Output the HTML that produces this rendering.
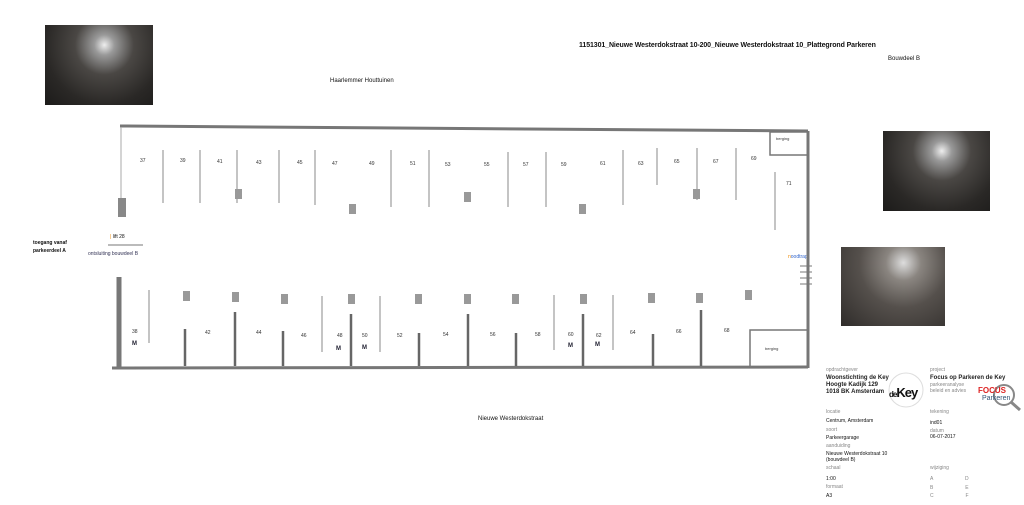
<!DOCTYPE html>
<html><head><meta charset="utf-8"><style>
body{margin:0;width:1024px;height:505px;background:#fff;position:relative;overflow:hidden;font-family:"Liberation Sans",sans-serif}
.t{position:absolute;white-space:nowrap;color:#111}
.ph{position:absolute;background:radial-gradient(ellipse at 55% 25%,#eee 0,#999 12%,#4a4744 35%,#2a2826 70%,#1c1b1a 100%)}
.s{font-size:5px;color:#888}
.b{font-size:6px;font-weight:bold;color:#222}
</style></head><body>
<div class="ph" style="left:45px;top:25px;width:108px;height:80px"></div>
<div class="ph" style="left:883px;top:131px;width:107px;height:80px"></div>
<div class="ph" style="left:841px;top:247px;width:104px;height:79px;background:radial-gradient(ellipse at 60% 20%,#ddd 0,#8a8580 20%,#55504c 50%,#2f2c2a 100%)"></div>
<div class="t" style="left:579px;top:42px;font-size:7px;font-weight:bold;letter-spacing:-0.1px">1151301_Nieuwe Westerdokstraat 10-200_Nieuwe Westerdokstraat 10_Plattegrond Parkeren</div>
<div class="t" style="left:888px;top:56px;font-size:6px">Bouwdeel B</div>
<div class="t" style="left:330px;top:78px;font-size:6px">Haarlemmer Houttuinen</div>
<div class="t" style="left:478px;top:416px;font-size:6px">Nieuwe Westerdokstraat</div>
<div class="t" style="left:33px;top:240px;font-size:5px;font-weight:bold">toegang vanaf</div>
<div class="t" style="left:33px;top:248px;font-size:5px;font-weight:bold">parkeerdeel A</div>
<div class="t" style="left:110px;top:234px;font-size:5px"><span style="color:#e80">|</span> lift 28</div>
<div class="t" style="left:88px;top:251px;font-size:5px;color:#335">ontsluiting bouwdeel B</div>
<div class="t" style="left:788px;top:254px;font-size:5px;color:#36c"><span style="color:#e80">n</span>oodtrap</div>
<svg style="position:absolute;left:0;top:0" width="1024" height="505">
<g fill="none" stroke="#777">
<path d="M120 126 L808 131" stroke-width="3"/>
<path d="M808 131 L808 368" stroke-width="3"/>
<path d="M112 368 L808 367" stroke-width="3"/>
<path d="M121 127 L121 198" stroke-width="1" stroke="#aaa"/>
<path d="M119 277 L119 368" stroke-width="5"/>
<rect x="770" y="132" width="38" height="23" stroke-width="1.5"/>
<rect x="750" y="330" width="58" height="37" stroke-width="1.5"/>
<path d="M800 266h12M800 272h12M800 278h12M800 284h12" stroke-width="1"/>
</g>
<rect x="118" y="198" width="8" height="19" fill="#888"/>
<line x1="108" y1="245" x2="143" y2="245" stroke="#777" stroke-width="1"/>
<g stroke="#888" stroke-width="1">
<line x1="163" y1="150" x2="163" y2="203"/><line x1="200" y1="150" x2="200" y2="203"/><line x1="237" y1="150" x2="237" y2="203"/><line x1="279" y1="150" x2="279" y2="203"/><line x1="315" y1="150" x2="315" y2="205"/><line x1="391" y1="150" x2="391" y2="207"/><line x1="429" y1="150" x2="429" y2="207"/><line x1="508" y1="152" x2="508" y2="207"/><line x1="546" y1="152" x2="546" y2="207"/><line x1="623" y1="150" x2="623" y2="205"/><line x1="657" y1="148" x2="657" y2="185"/><line x1="697" y1="148" x2="697" y2="200"/><line x1="736" y1="148" x2="736" y2="200"/><line x1="775" y1="172" x2="775" y2="230"/>
<line x1="149" y1="290" x2="149" y2="343"/><line x1="322" y1="296" x2="322" y2="352"/><line x1="380" y1="296" x2="380" y2="352"/><line x1="554" y1="295" x2="554" y2="350"/><line x1="613" y1="295" x2="613" y2="350"/>
</g>
<g stroke="#666" stroke-width="2.5">
<line x1="185" y1="329" x2="185" y2="366"/><line x1="235" y1="312" x2="235" y2="366"/><line x1="283" y1="331" x2="283" y2="366"/><line x1="351" y1="314" x2="351" y2="366"/><line x1="419" y1="333" x2="419" y2="366"/><line x1="468" y1="314" x2="468" y2="366"/><line x1="516" y1="333" x2="516" y2="366"/><line x1="583" y1="314" x2="583" y2="366"/><line x1="653" y1="334" x2="653" y2="366"/><line x1="701" y1="310" x2="701" y2="366"/>
</g>
<g fill="#999">
<rect x="235" y="189" width="7" height="10"/><rect x="349" y="204" width="7" height="10"/><rect x="464" y="192" width="7" height="10"/><rect x="579" y="204" width="7" height="10"/><rect x="693" y="189" width="7" height="10"/>
<rect x="183" y="291" width="7" height="10"/><rect x="232" y="292" width="7" height="10"/><rect x="281" y="294" width="7" height="10"/><rect x="348" y="294" width="7" height="10"/><rect x="415" y="294" width="7" height="10"/><rect x="464" y="294" width="7" height="10"/><rect x="512" y="294" width="7" height="10"/><rect x="580" y="294" width="7" height="10"/><rect x="648" y="293" width="7" height="10"/><rect x="696" y="293" width="7" height="10"/><rect x="745" y="290" width="7" height="10"/>
</g>
<g font-family="Liberation Sans" font-size="5" fill="#333">
<text x="140" y="162">37</text><text x="180" y="162">39</text><text x="217" y="163">41</text><text x="256" y="164">43</text><text x="297" y="164">45</text><text x="332" y="165">47</text><text x="369" y="165">49</text><text x="410" y="165">51</text><text x="445" y="166">53</text><text x="484" y="166">55</text><text x="523" y="166">57</text><text x="561" y="166">59</text><text x="600" y="165">61</text><text x="638" y="165">63</text><text x="674" y="163">65</text><text x="713" y="163">67</text><text x="751" y="160">69</text><text x="786" y="185">71</text>
<text x="132" y="333">38</text><text x="205" y="334">42</text><text x="256" y="334">44</text><text x="301" y="337">46</text><text x="337" y="337">48</text><text x="362" y="337">50</text><text x="397" y="337">52</text><text x="443" y="336">54</text><text x="490" y="336">56</text><text x="535" y="336">58</text><text x="568" y="336">60</text><text x="596" y="337">62</text><text x="630" y="334">64</text><text x="676" y="333">66</text><text x="724" y="332">68</text>
<text x="776" y="140" font-size="4">berging</text><text x="765" y="350" font-size="4">berging</text>
</g>
<g font-family="Liberation Sans" font-size="6" font-weight="bold" fill="#223">
<text x="132" y="345">M</text><text x="336" y="350">M</text><text x="362" y="349">M</text><text x="568" y="347">M</text><text x="595" y="346">M</text>
</g>
<circle cx="906" cy="390" r="17" fill="none" stroke="#ddd"/>
<circle cx="1004" cy="395" r="10" fill="#fff" stroke="#888" stroke-width="2"/>
<line x1="1011" y1="402" x2="1020" y2="410" stroke="#888" stroke-width="3"/>
</svg>
<div class="t s" style="left:826px;top:367px">opdrachtgever</div>
<div class="t b" style="left:826px;top:375px;line-height:7px">Woonstichting de Key<br>Hoogte Kadijk 129<br>1018 BK Amsterdam</div>
<div class="t" style="left:889px;top:385px;font-size:13px;font-weight:bold;letter-spacing:-1px"><span style="font-size:8px">de</span>Key</div>
<div class="t s" style="left:930px;top:367px">project</div>
<div class="t b" style="left:930px;top:375px">Focus op Parkeren de Key</div>
<div class="t s" style="left:930px;top:382px;line-height:6px">parkeeranalyse<br>beleid en advies</div>
<div class="t" style="left:978px;top:386px;font-size:8px;font-weight:bold;color:#d22">FOCUS</div>
<div class="t" style="left:982px;top:395px;font-size:7px;color:#357">Parkeren</div>
<div class="t s" style="left:826px;top:409px">locatie</div>
<div class="t" style="left:826px;top:418px;font-size:5px">Centrum, Amsterdam</div>
<div class="t s" style="left:826px;top:427px">soort</div>
<div class="t" style="left:826px;top:435px;font-size:5px">Parkeergarage</div>
<div class="t s" style="left:826px;top:443px">aanduiding</div>
<div class="t" style="left:826px;top:451px;font-size:5px;line-height:6px">Nieuwe Westerdokstraat 10<br>(bouwdeel B)</div>
<div class="t s" style="left:826px;top:465px">schaal</div>
<div class="t" style="left:826px;top:476px;font-size:5px">1:00</div>
<div class="t s" style="left:826px;top:484px">formaat</div>
<div class="t" style="left:826px;top:493px;font-size:5px">A3</div>
<div class="t s" style="left:930px;top:409px">tekening</div>
<div class="t" style="left:930px;top:420px;font-size:5px">ind01</div>
<div class="t s" style="left:930px;top:428px">datum</div>
<div class="t" style="left:930px;top:434px;font-size:5px">06-07-2017</div>
<div class="t s" style="left:930px;top:465px">wijziging</div>
<div class="t s" style="left:930px;top:476px">A &nbsp;&nbsp;&nbsp;&nbsp;&nbsp;&nbsp;&nbsp;&nbsp;&nbsp;&nbsp;&nbsp;&nbsp;&nbsp;&nbsp;&nbsp;&nbsp;&nbsp;&nbsp;&nbsp;&nbsp;&nbsp;&nbsp;D</div>
<div class="t s" style="left:930px;top:485px">B &nbsp;&nbsp;&nbsp;&nbsp;&nbsp;&nbsp;&nbsp;&nbsp;&nbsp;&nbsp;&nbsp;&nbsp;&nbsp;&nbsp;&nbsp;&nbsp;&nbsp;&nbsp;&nbsp;&nbsp;&nbsp;&nbsp;E</div>
<div class="t s" style="left:930px;top:493px">C &nbsp;&nbsp;&nbsp;&nbsp;&nbsp;&nbsp;&nbsp;&nbsp;&nbsp;&nbsp;&nbsp;&nbsp;&nbsp;&nbsp;&nbsp;&nbsp;&nbsp;&nbsp;&nbsp;&nbsp;&nbsp;&nbsp;F</div>
</body></html>
